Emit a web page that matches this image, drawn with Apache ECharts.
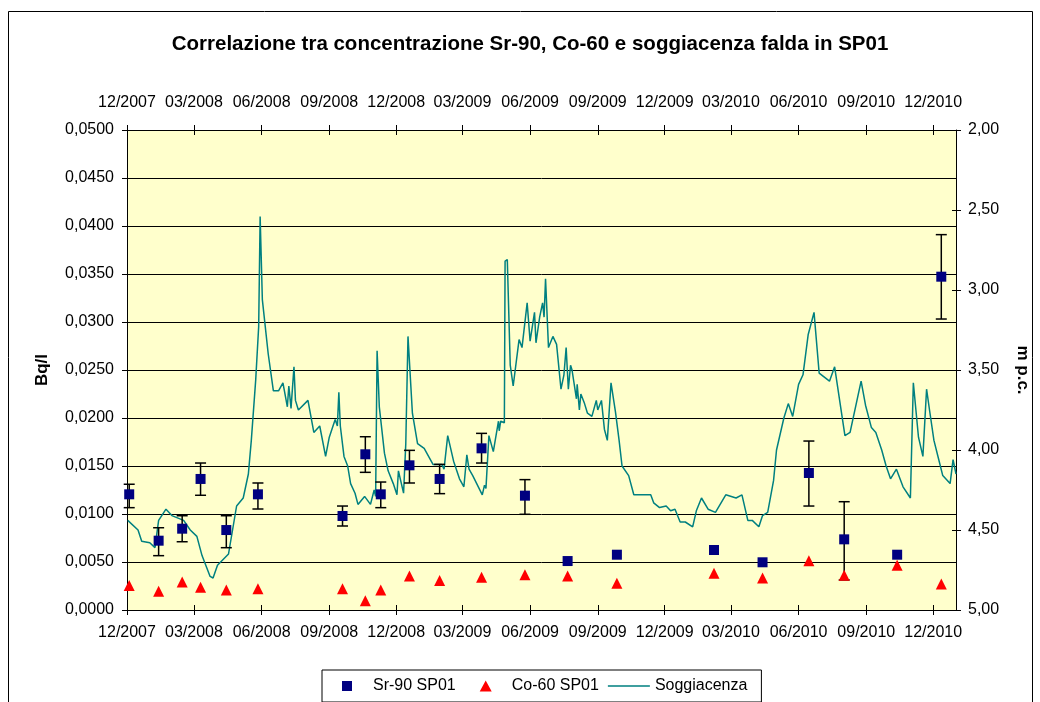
<!DOCTYPE html>
<html>
<head>
<meta charset="utf-8">
<title>Sr-90, Co-60 e soggiacenza SP01</title>
<script src="https://cdn.jsdelivr.net/npm/echarts@6/dist/echarts.min.js"></script>
<style>
html, body { margin: 0; padding: 0; background: #fff; }
#chart { width: 1040px; height: 702px; }
</style>
</head>
<body>
<div id="chart"></div>
<script>
// asse dei tempi: etichette trimestrali
var xTickLabels = ['12/2007', '03/2008', '06/2008', '09/2008', '12/2008', '03/2009', '06/2009',
	'09/2009', '12/2009', '03/2010', '06/2010', '09/2010', '12/2010'];

// campionamenti (Sr-90 e Co-60 nelle stesse date)
var sampleDates = ['2007-12-04', '2008-01-13', '2008-02-14', '2008-03-10', '2008-04-14', '2008-05-27',
	'2008-09-19', '2008-10-20', '2008-11-10', '2008-12-19', '2009-01-29', '2009-03-27', '2009-05-25',
	'2009-07-22', '2009-09-27', '2010-02-06', '2010-04-13', '2010-06-15', '2010-08-02', '2010-10-13',
	'2010-12-12'];
var sr90Values = [0.01205, 0.00722, 0.00847, 0.01365, 0.00833, 0.01205, 0.00979, 0.01622, 0.01205,
	0.01507, 0.01365, 0.01684, 0.01191, 0.0051, 0.00576, 0.00625, 0.00497, 0.01427, 0.00736, 0.00576, 0.03472];
var sr90Low = [0.01066, 0.00566, 0.00711, 0.01195, 0.00649, 0.01052, 0.00875, 0.01434, 0.01066,
	0.01323, 0.01212, 0.01531, 0.00997, null, null, null, null, 0.01083, 0.00313, null, 0.03031];
var sr90High = [0.0131, 0.00857, 0.00982, 0.01531, 0.00982, 0.01323, 0.01083, 0.01805, 0.01333,
	0.01663, 0.01517, 0.0184, 0.01358, null, null, null, null, 0.0176, 0.01128, null, 0.0391];
var co60Values = [0.00255, 0.00195, 0.00292, 0.00236, 0.00208, 0.00222, 0.00222, 0.00097, 0.00208,
	0.00354, 0.00306, 0.0034, 0.00368, 0.00354, 0.00278, 0.00382, 0.00333, 0.00514, 0.00361, 0.00465, 0.00271];

// soggiacenza falda (m p.c.)
var sogDates = [
	'2007-12-02','2007-12-16','2007-12-21','2008-01-01','2008-01-08','2008-01-13','2008-01-23','2008-01-31','2008-02-16','2008-02-25',
	'2008-03-05','2008-03-12','2008-03-23','2008-03-27','2008-04-02','2008-04-17','2008-04-28','2008-05-07','2008-05-14','2008-05-18',
	'2008-05-24','2008-05-28','2008-05-30','2008-06-02','2008-06-10','2008-06-17','2008-06-24','2008-06-30','2008-07-06','2008-07-08',
	'2008-07-11','2008-07-15','2008-07-17','2008-07-21','2008-08-03','2008-08-11','2008-08-19','2008-08-27','2008-09-01','2008-09-09',
	'2008-09-12','2008-09-14','2008-09-16','2008-09-21','2008-09-26','2008-09-30','2008-10-06','2008-10-10','2008-10-19','2008-10-27',
	'2008-11-01','2008-11-03','2008-11-05','2008-11-08','2008-11-15','2008-11-20','2008-11-27','2008-12-02','2008-12-04','2008-12-11',
	'2008-12-14','2008-12-17','2008-12-23','2008-12-30','2009-01-08','2009-01-20','2009-02-01','2009-02-04','2009-02-09','2009-02-17',
	'2009-02-25','2009-03-03','2009-03-07','2009-03-10','2009-03-15','2009-03-28','2009-03-31','2009-04-02','2009-04-06','2009-04-12',
	'2009-04-19','2009-04-20','2009-04-22','2009-04-27','2009-04-28','2009-05-01','2009-05-05','2009-05-09','2009-05-17','2009-05-21',
	'2009-05-28','2009-06-01','2009-06-07','2009-06-09','2009-06-14','2009-06-18','2009-06-20','2009-06-22','2009-06-26','2009-07-02',
	'2009-07-07','2009-07-13','2009-07-17','2009-07-20','2009-07-23','2009-07-26','2009-07-28','2009-08-03','2009-08-04','2009-08-07',
	'2009-08-09','2009-08-14','2009-08-18','2009-08-24','2009-08-30','2009-09-01','2009-09-06','2009-09-10','2009-09-14','2009-09-19',
	'2009-09-25','2009-09-30','2009-10-04','2009-10-13','2009-10-20','2009-11-12','2009-11-16','2009-11-24','2009-12-03','2009-12-09',
	'2009-12-15','2009-12-22','2009-12-29','2010-01-08','2010-01-13','2010-01-20','2010-01-29','2010-02-08','2010-02-22','2010-03-08',
	'2010-03-16','2010-03-24','2010-03-30','2010-04-08','2010-04-13','2010-04-20','2010-04-28','2010-05-02','2010-05-12','2010-05-18',
	'2010-05-24','2010-06-01','2010-06-07','2010-06-14','2010-06-22','2010-06-29','2010-07-13','2010-07-20','2010-08-03','2010-08-10',
	'2010-08-25','2010-08-31','2010-09-08','2010-09-14','2010-09-22','2010-09-28','2010-10-04','2010-10-12','2010-10-21','2010-10-31',
	'2010-11-04','2010-11-11','2010-11-17','2010-11-22','2010-11-26','2010-12-02','2010-12-08','2010-12-14','2010-12-24','2010-12-28',
	'2011-01-01'
];
var sogDepth = [
	4.44, 4.50, 4.57, 4.58, 4.61, 4.44, 4.37, 4.41, 4.44, 4.50,
	4.54, 4.66, 4.79, 4.80, 4.72, 4.65, 4.35, 4.30, 4.15, 3.94,
	3.56, 3.23, 2.54, 3.06, 3.40, 3.63, 3.63, 3.58, 3.73, 3.60,
	3.74, 3.48, 3.69, 3.75, 3.69, 3.89, 3.85, 4.04, 3.92, 3.81,
	3.85, 3.64, 3.85, 4.04, 4.10, 4.21, 4.27, 4.34, 4.29, 4.34,
	4.25, 4.29, 3.38, 3.73, 4.02, 4.13, 4.21, 4.28, 4.13, 4.27,
	3.96, 3.29, 3.77, 3.96, 3.99, 4.09, 4.09, 4.12, 3.91, 4.07,
	4.18, 4.23, 4.03, 4.12, 4.16, 4.28, 4.22, 4.24, 3.91, 4.01,
	3.82, 3.88, 3.82, 3.83, 2.82, 2.81, 3.47, 3.60, 3.31, 3.36,
	3.08, 3.32, 3.14, 3.33, 3.17, 3.08, 3.17, 2.93, 3.36, 3.29,
	3.34, 3.62, 3.53, 3.36, 3.62, 3.47, 3.50, 3.68, 3.59, 3.75,
	3.65, 3.71, 3.77, 3.79, 3.69, 3.75, 3.69, 3.87, 3.94, 3.58,
	3.76, 3.94, 4.10, 4.16, 4.28, 4.28, 4.33, 4.36, 4.35, 4.38,
	4.37, 4.45, 4.45, 4.48, 4.38, 4.30, 4.37, 4.39, 4.28, 4.30,
	4.28, 4.44, 4.44, 4.48, 4.41, 4.39, 4.19, 4.00, 3.80, 3.71,
	3.79, 3.59, 3.53, 3.28, 3.14, 3.52, 3.57, 3.48, 3.91, 3.89,
	3.57, 3.72, 3.86, 3.89, 4.00, 4.10, 4.18, 4.12, 4.23, 4.30,
	3.58, 3.92, 4.04, 3.62, 3.75, 3.94, 4.05, 4.16, 4.21, 4.06,
	4.15
];

var FONT = "'Liberation Sans', Arial, sans-serif";

function toTime(s) {
	var p = s.split('-');
	return Date.UTC(+p[0], +p[1] - 1, +p[2]);
}
function tickTime(lbl) {
	var p = lbl.split('/');
	return Date.UTC(+p[1], +p[0] - 1, 1);
}
function fmtMonth(v) {
	var d = new Date(v);
	var m = d.getUTCMonth() + 1;
	return (m < 10 ? '0' : '') + m + '/' + d.getUTCFullYear();
}

var xTicks = xTickLabels.map(tickTime);
var xMin = xTicks[0];
var xMax = Date.UTC(2011, 0, 1);

var sr90Data = [], co60Data = [], errData = [], sogData = [];
for (var i = 0; i < sampleDates.length; i++) {
	var t = toTime(sampleDates[i]);
	sr90Data.push([t, sr90Values[i]]);
	co60Data.push([t, co60Values[i]]);
	if (sr90Low[i] != null) {
		errData.push([t, sr90Low[i], sr90High[i]]);
	}
}
for (var j = 0; j < sogDates.length; j++) {
	sogData.push([toTime(sogDates[j]), sogDepth[j]]);
}

// asse x (sopra e sotto); la seconda coppia serve solo per i trattini verso l'interno
function makeX(pos, withLabel, inside) {
	return {
		type: 'value',
		position: pos,
		min: xMin,
		max: xMax,
		axisLine: { show: true, onZero: false, lineStyle: { color: '#000', width: 1 } },
		axisTick: { show: true, inside: inside, length: 5, customValues: xTicks, lineStyle: { color: '#000' } },
		axisLabel: {
			show: withLabel,
			customValues: xTicks,
			formatter: fmtMonth,
			margin: pos == 'top' ? 19 : 15,
			color: '#000',
			fontSize: 16,
			fontFamily: FONT
		},
		splitLine: { show: false }
	};
}

// icone legenda larghe 42px con il simbolo al centro
var iconSquare = 'path://M0,0h0.05v0.05h-0.05z M16,0.5h10v10h-10z M41.95,10.95h0.05v0.05h-0.05z';
var iconTriangle = 'path://M0,0h0.05v0.05h-0.05z M21,0L27,11L15,11z M41.95,10.95h0.05v0.05h-0.05z';
var iconLine = 'path://M0,0h0.05v0.05h-0.05z M0,4.7H42V6.3H0z M41.95,10.95h0.05v0.05h-0.05z';

var myChart = echarts.init(document.getElementById('chart'));
var option = {
	animation: false,
	title: {
		text: 'Correlazione tra concentrazione Sr-90, Co-60 e soggiacenza falda in SP01',
		left: 525,
		top: 29,
		textAlign: 'center',
		textStyle: { color: '#000', fontSize: 20.5, fontWeight: 'bold', fontFamily: FONT }
	},
	graphic: [{
		type: 'rect',
		silent: true,
		z: -10,
		shape: { x: 8.5, y: 11.5, width: 1024, height: 720 },
		style: { fill: null, stroke: '#000', lineWidth: 1 }
	}],
	legend: {
		left: 322,
		top: 670,
		padding: [8, 14, 8, 4],
		borderColor: '#000',
		borderWidth: 1,
		itemWidth: 42,
		itemHeight: 11,
		itemGap: 9,
		symbolKeepAspect: true,
		textStyle: { color: '#000', fontSize: 16, fontFamily: FONT },
		data: [
			{ name: 'Sr-90 SP01', icon: iconSquare },
			{ name: 'Co-60 SP01', icon: iconTriangle },
			{ name: 'Soggiacenza', icon: iconLine }
		]
	},
	grid: {
		left: 127,
		right: 84,
		top: 130,
		bottom: 92,
		show: true,
		backgroundColor: '#FFFFCC',
		borderWidth: 0
	},
	xAxis: [
		makeX('bottom', true, false),
		makeX('top', true, false),
		makeX('bottom', false, true),
		makeX('top', false, true)
	],
	yAxis: [{
		type: 'value',
		position: 'left',
		min: 0,
		max: 0.05,
		interval: 0.005,
		name: 'Bq/l',
		nameLocation: 'middle',
		nameRotate: 90,
		nameGap: 76,
		nameTextStyle: { color: '#000', fontSize: 17, fontWeight: 'bold', fontFamily: FONT },
		axisLine: { show: true, lineStyle: { color: '#000' } },
		axisTick: { show: true, length: 5, lineStyle: { color: '#000' } },
		axisLabel: {
			margin: 13,
			color: '#000',
			fontSize: 16,
			fontFamily: FONT,
			formatter: function (v) { return v.toFixed(4).replace('.', ','); }
		},
		splitLine: { show: true, lineStyle: { color: '#000', width: 1 } }
	}, {
		type: 'value',
		position: 'right',
		min: 2,
		max: 5,
		interval: 0.5,
		inverse: true,
		name: 'm p.c.',
		nameLocation: 'middle',
		nameRotate: -90,
		nameGap: 58,
		nameTextStyle: { color: '#000', fontSize: 17, fontWeight: 'bold', fontFamily: FONT },
		axisLine: { show: true, lineStyle: { color: '#000' } },
		axisTick: { show: true, length: 5, lineStyle: { color: '#000' } },
		axisLabel: {
			margin: 12,
			color: '#000',
			fontSize: 16,
			fontFamily: FONT,
			formatter: function (v) { return v.toFixed(2).replace('.', ','); }
		},
		splitLine: { show: false }
	}, {
		type: 'value',
		position: 'left',
		min: 0,
		max: 0.05,
		interval: 0.005,
		axisLine: { show: false },
		axisTick: { show: true, inside: true, length: 4, lineStyle: { color: '#000' } },
		axisLabel: { show: false },
		splitLine: { show: false }
	}, {
		type: 'value',
		position: 'right',
		min: 2,
		max: 5,
		interval: 0.5,
		inverse: true,
		axisLine: { show: false },
		axisTick: { show: true, inside: true, length: 4, lineStyle: { color: '#000' } },
		axisLabel: { show: false },
		splitLine: { show: false }
	}],
	series: [{
		name: 'Soggiacenza',
		type: 'line',
		xAxisIndex: 0,
		yAxisIndex: 1,
		data: sogData,
		symbol: 'none',
		showSymbol: false,
		z: 2,
		lineStyle: { color: '#008080', width: 1.5 },
		itemStyle: { color: '#008080' }
	}, {
		// barre d'errore Sr-90
		type: 'custom',
		xAxisIndex: 0,
		yAxisIndex: 0,
		data: errData,
		encode: { x: 0, y: [1, 2] },
		z: 3,
		silent: true,
		renderItem: function (params, api) {
			var top = api.coord([api.value(0), api.value(2)]);
			var bot = api.coord([api.value(0), api.value(1)]);
			var w = 5.5;
			var st = { stroke: '#000', lineWidth: 1.5 };
			return {
				type: 'group',
				children: [
					{ type: 'line', shape: { x1: top[0], y1: top[1], x2: bot[0], y2: bot[1] }, style: st },
					{ type: 'line', shape: { x1: top[0] - w, y1: top[1], x2: top[0] + w, y2: top[1] }, style: st },
					{ type: 'line', shape: { x1: bot[0] - w, y1: bot[1], x2: bot[0] + w, y2: bot[1] }, style: st }
				]
			};
		}
	}, {
		name: 'Sr-90 SP01',
		type: 'scatter',
		xAxisIndex: 0,
		yAxisIndex: 0,
		data: sr90Data,
		symbol: 'rect',
		symbolSize: 10,
		z: 4,
		itemStyle: { color: '#000080', opacity: 1 }
	}, {
		name: 'Co-60 SP01',
		type: 'scatter',
		xAxisIndex: 0,
		yAxisIndex: 0,
		data: co60Data,
		symbol: 'triangle',
		symbolSize: 11,
		z: 4,
		itemStyle: { color: '#FF0000', opacity: 1 }
	}]
};
myChart.setOption(option);
</script>
</body>
</html>
